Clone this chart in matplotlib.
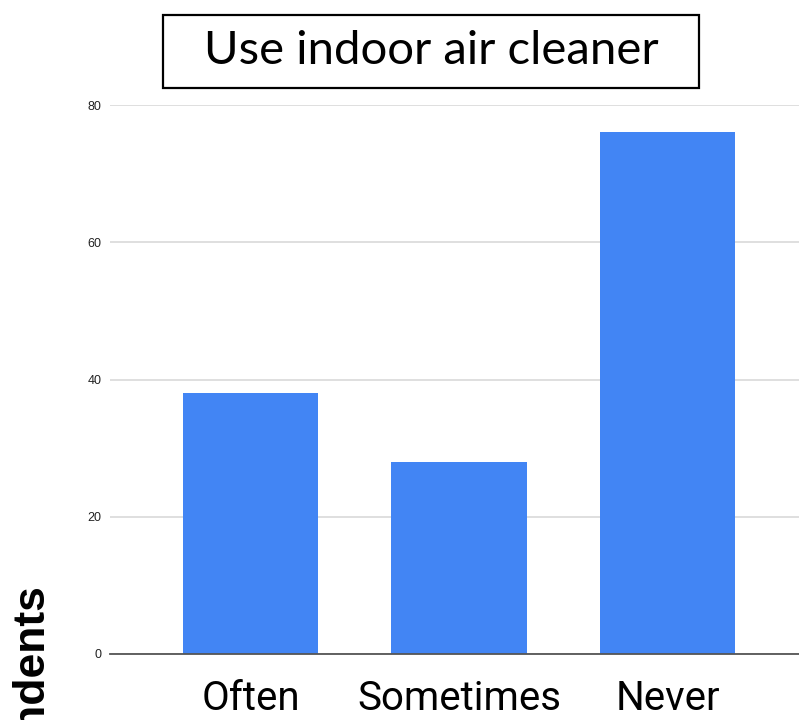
import matplotlib
matplotlib.use("Agg")
import matplotlib.pyplot as plt
from matplotlib.patches import Rectangle

# Survey responses
categories = ["Often", "Sometimes", "Never"]
counts = [38, 28, 76]
y_ticks = [0, 20, 40, 60, 80]
title = "Use indoor air cleaner"
y_label = "Respondents"

W, H = 799, 720
fig = plt.figure(figsize=(W / 100, H / 100), dpi=100)

# axes in pixel terms: plot from x=110 to the right edge, y=105 (80) to y=654 (0)
ax = fig.add_axes([110 / W, 1 - 654 / H, 1 - 110 / W, (654 - 105) / H])

ax.bar(range(len(categories)), counts, width=0.65, color="#4285F4", zorder=3)
ax.set_xlim(-0.674, 2.63)
ax.set_ylim(0, 80)
ax.set_yticks(y_ticks)
ax.set_yticklabels([str(t) for t in y_ticks], fontsize=9, color="#222222",
                   family="Liberation Sans")
ax.yaxis.grid(True, color="#d9d9d9", linewidth=1.2, zorder=0)
ax.tick_params(axis="y", length=0, pad=6)
ax.set_xticks(range(len(categories)))
ax.set_xticklabels(categories, fontsize=29, family="Roboto", color="black")
ax.tick_params(axis="x", length=0, pad=18)

for side in ["top", "right", "left"]:
    ax.spines[side].set_visible(False)
ax.spines["bottom"].set_color("#555555")
ax.spines["bottom"].set_linewidth(1.3)
ax.spines["bottom"].set_zorder(4)

# boxed title
fig.patches.append(Rectangle((163 / W, 1 - 88 / H), (699 - 163) / W, (88 - 15) / H,
                             transform=fig.transFigure, fill=False,
                             edgecolor="black", linewidth=1.6))
fig.text(431 / W, 1 - 51 / H, title, ha="center", va="center",
         fontsize=34, family="Lato", color="black")

# y label, runs off the bottom of the figure
fig.text(31 / W, 1 - 583 / H, y_label, rotation=90, rotation_mode="anchor",
         ha="right", va="center", fontsize=32, fontweight="bold",
         family="Liberation Sans", color="black")

fig.savefig("out.png", dpi=100)
